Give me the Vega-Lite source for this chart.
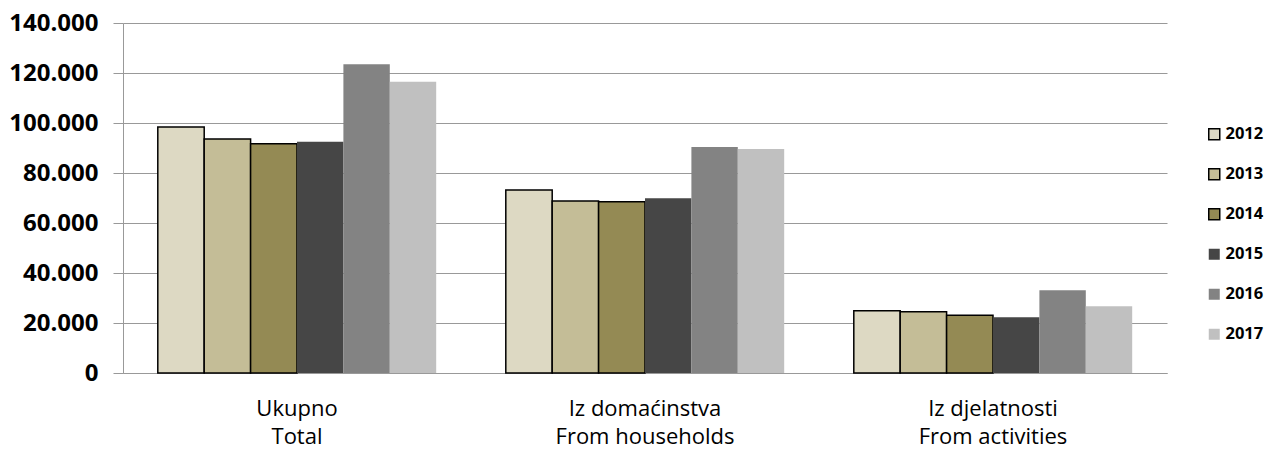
{
  "$schema": "https://vega.github.io/schema/vega-lite/v6.json",
  "autosize": {"type": "none"},
  "width": 1044,
  "height": 350,
  "padding": {"left": 123, "top": 23, "right": 100, "bottom": 77},
  "background": "white",
  "data": {
    "values": [
      {"cat": "Ukupno|Total", "year": "2012", "value": 98400},
      {"cat": "Ukupno|Total", "year": "2013", "value": 93600},
      {"cat": "Ukupno|Total", "year": "2014", "value": 91700},
      {"cat": "Ukupno|Total", "year": "2015", "value": 92500},
      {"cat": "Ukupno|Total", "year": "2016", "value": 123500},
      {"cat": "Ukupno|Total", "year": "2017", "value": 116500},
      {"cat": "Iz domaćinstva|From households", "year": "2012", "value": 73200},
      {"cat": "Iz domaćinstva|From households", "year": "2013", "value": 68800},
      {"cat": "Iz domaćinstva|From households", "year": "2014", "value": 68500},
      {"cat": "Iz domaćinstva|From households", "year": "2015", "value": 69900},
      {"cat": "Iz domaćinstva|From households", "year": "2016", "value": 90400},
      {"cat": "Iz domaćinstva|From households", "year": "2017", "value": 89600},
      {"cat": "Iz djelatnosti|From activities", "year": "2012", "value": 24900},
      {"cat": "Iz djelatnosti|From activities", "year": "2013", "value": 24500},
      {"cat": "Iz djelatnosti|From activities", "year": "2014", "value": 23100},
      {"cat": "Iz djelatnosti|From activities", "year": "2015", "value": 22300},
      {"cat": "Iz djelatnosti|From activities", "year": "2016", "value": 33100},
      {"cat": "Iz djelatnosti|From activities", "year": "2017", "value": 26700}
    ]
  },
  "mark": {"type": "bar", "strokeWidth": 1.5},
  "encoding": {
    "x": {
      "field": "cat",
      "type": "nominal",
      "sort": null,
      "scale": {"paddingInner": 0.2, "paddingOuter": 0.1},
      "axis": {
        "title": null,
        "labelAngle": 0,
        "labelExpr": "split(datum.label, '|')",
        "labelFont": "Open Sans",
        "labelFontSize": 22,
        "labelColor": "#000000",
        "labelLineHeight": 28,
        "labelBaseline": "top",
        "ticks": false,
        "tickSize": 0,
        "labelPadding": 25,
        "domainColor": "#999999",
        "domainWidth": 1,
        "grid": false
      }
    },
    "xOffset": {"field": "year", "type": "nominal", "sort": null},
    "y": {
      "field": "value",
      "type": "quantitative",
      "scale": {"domain": [0, 140000], "nice": false},
      "axis": {
        "title": null,
        "values": [0, 20000, 40000, 60000, 80000, 100000, 120000, 140000],
        "labelExpr": "replace(format(datum.value, ','), ',', '.')",
        "labelFont": "Open Sans",
        "labelFontWeight": "bold",
        "labelFontSize": 24,
        "labelColor": "#000000",
        "tickSize": 10,
        "tickColor": "#999999",
        "labelPadding": 15,
        "domainColor": "#999999",
        "gridColor": "#999999",
        "gridWidth": 1
      }
    },
    "fill": {
      "field": "year",
      "type": "nominal",
      "scale": {
        "domain": ["2012", "2013", "2014", "2015", "2016", "2017"],
        "range": ["#DDD9C3", "#C4BD97", "#948A54", "#464646", "#838383", "#C0C0C0"]
      },
      "legend": {
        "title": null,
        "orient": "none",
        "legendX": 1083,
        "legendY": 103,
        "symbolType": "square",
        "symbolSize": 121,
        "symbolStrokeWidth": 1.5,
        "labelFont": "Open Sans",
        "labelFontWeight": "bold",
        "labelFontSize": 16.5,
        "labelColor": "#000000",
        "labelOffset": 3,
        "rowPadding": 22
      }
    },
    "stroke": {
      "field": "year",
      "type": "nominal",
      "scale": {
        "domain": ["2012", "2013", "2014", "2015", "2016", "2017"],
        "range": ["#000000", "#000000", "#000000", "transparent", "transparent", "transparent"]
      },
      "legend": {
        "title": null,
        "orient": "none",
        "legendX": 1083,
        "legendY": 103,
        "symbolType": "square",
        "symbolSize": 121,
        "symbolStrokeWidth": 1.5,
        "labelFont": "Open Sans",
        "labelFontWeight": "bold",
        "labelFontSize": 16.5,
        "labelColor": "#000000",
        "labelOffset": 3,
        "rowPadding": 22
      }
    }
  },
  "config": {
    "view": {"stroke": null},
    "axis": {"gridColor": "#999999"}
  }
}
